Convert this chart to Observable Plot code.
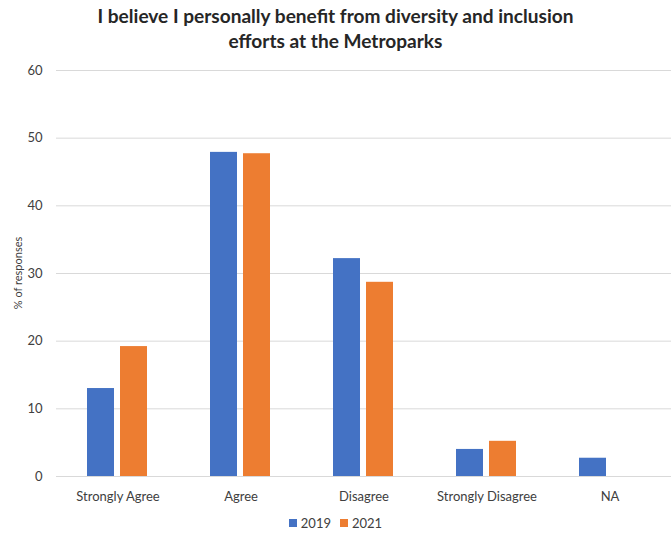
<!DOCTYPE html>
<html>
<head>
<meta charset="utf-8">
<script src="https://cdn.jsdelivr.net/npm/d3@7"></script>
<script src="https://cdn.jsdelivr.net/npm/@observablehq/plot@0.6"></script>
<style>
  html, body { margin: 0; padding: 0; background: #fff; }
  #wrap { position: relative; width: 671px; height: 533px; font-family: Lato, "Open Sans", sans-serif; }
  #title { position: absolute; left: 0; top: 3px; width: 671px; text-align: center; font-weight: bold; font-size: 17px; line-height: 25px; color: #262626; }
  #title span { white-space: nowrap; }
  #chart { position: absolute; left: 0; top: 58px; }
  #ylabel { position: absolute; left: 17px; top: 273px; transform: translate(-50%, -50%) rotate(-90deg); font-size: 11px; color: #404040; white-space: nowrap; }
  #legend { position: absolute; top: 515px; left: 0; width: 671px; display: flex; justify-content: center; font-size: 13px; color: #404040; }
  .item { display: flex; align-items: center; margin: 0 4.5px; }
  .sw { width: 8px; height: 8px; margin-right: 4px; }
</style>
</head>
<body>
<div id="wrap">
  <div id="title"><span id="t1">I believe I personally benefit from diversity and inclusion</span><br><span id="t2">efforts at the Metroparks</span></div>
  <div id="chart"></div>
  <div id="ylabel">% of responses</div>
  <div id="legend"></div>
</div>
<script>
const categories = ["Strongly Agree", "Agree", "Disagree", "Strongly Disagree", "NA"];
const years = ["2019", "2021"];
const values2019 = [13.0, 47.9, 32.2, 4.0, 2.7];
const values2021 = [19.2, 47.7, 28.7, 5.2, null];
const yTicks = [0, 10, 20, 30, 40, 50, 60];
const colors = ["#4472C4", "#ED7D31"];

const rows = [];
categories.forEach((c, i) => {
  rows.push({cat: c, year: years[0], value: values2019[i]});
  rows.push({cat: c, year: years[1], value: values2021[i]});
});

const plot = Plot.plot({
  width: 671,
  height: 447,
  marginTop: 12,
  marginBottom: 29,
  marginLeft: 56,
  marginRight: 0,
  style: {fontFamily: "Lato, 'Open Sans', sans-serif", fontSize: "13px", color: "#404040", background: "#fff"},
  fx: {domain: categories, padding: 0, label: null, axis: "bottom", tickSize: 0, tickPadding: 15},
  x: {domain: years, axis: null, paddingInner: 0.176, paddingOuter: 0.897},
  y: {domain: [0, 60], ticks: yTicks, tickSize: 0, tickPadding: 14, label: null},
  color: {domain: years, range: colors},
  marks: [
    Plot.ruleY(yTicks, {stroke: "#d9d9d9", strokeWidth: 1}),
    Plot.barY(rows.filter(d => d.value != null), {fx: "cat", x: "year", y: "value", fill: "year"})
  ]
});
document.getElementById("chart").appendChild(plot);

const legend = document.getElementById("legend");
years.forEach((y, i) => {
  const it = document.createElement("div");
  it.className = "item";
  const sw = document.createElement("div");
  sw.className = "sw";
  sw.style.background = colors[i];
  const tx = document.createElement("span");
  tx.textContent = y;
  it.appendChild(sw); it.appendChild(tx);
  legend.appendChild(it);
});

function fitTitle() {
  const t1 = document.getElementById("t1");
  const w = t1.getBoundingClientRect().width;
  const title = document.getElementById("title");
  const fs = parseFloat(getComputedStyle(title).fontSize);
  title.style.fontSize = (fs * 476 / w) + "px";
}
fitTitle();
if (document.fonts && document.fonts.ready) document.fonts.ready.then(fitTitle);
</script>
</body>
</html>
